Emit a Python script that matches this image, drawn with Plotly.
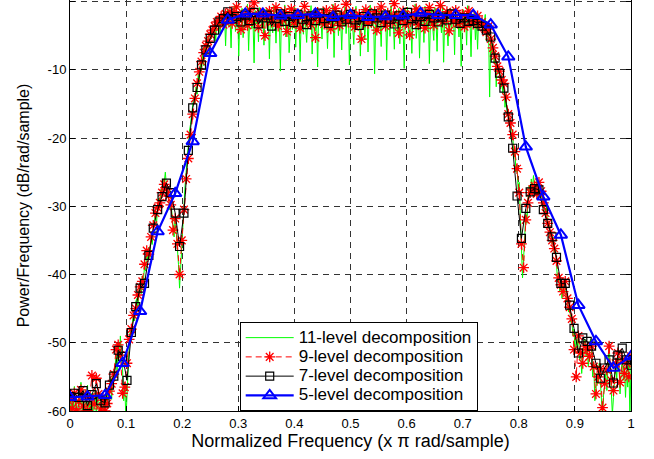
import numpy as np
import plotly.graph_objects as go

# Power spectral density (dB/rad/sample) of the reconstructed signal for
# several wavelet decomposition depths, sampled on a uniform normalized
# frequency grid from 0 to 1 (x pi rad/sample).

# 11-level decomposition: 513 frequency bins
GREEN_11 = [
    -58.5, -61.0, -57.2, -59.8, -56.4, -60.7, -58.0, -62.5, -57.6, -59.1, -55.8, -60.3, -58.7, -63.0, -57.0, -59.5,
    -56.2, -61.8, -58.3, -60.0, -57.4, -62.2, -59.0, -56.9, -60.9, -58.1, -57.5, -61.4, -59.6, -57.9, -63.5, -58.4,
    -60.6, -57.3, -59.2, -56.5, -57.8, -55.0, -58.3, -54.2, -55.6, -53.0, -51.8, -54.5, -50.1, -52.2, -49.0, -52.6,
    -54.0, -58.5, -56.0, -61.5, -57.2, -54.0, -50.5, -48.0, -49.8, -47.0, -45.5, -46.8, -44.0, -43.5, -45.2, -42.0,
    -41.5, -42.8, -40.2, -41.0, -38.8, -39.5, -36.5, -37.8, -36.0, -37.5, -34.2, -35.6, -33.0, -32.0, -31.2, -32.5,
    -30.0, -28.8, -29.5, -27.5, -28.0, -26.0, -26.5, -25.0, -27.0, -28.2, -28.5, -30.5, -29.2, -31.0, -33.0, -34.5,
    -31.5, -33.5, -36.0, -38.5, -42.0, -39.0, -34.0, -31.5, -29.5, -27.0, -25.0, -22.5, -21.0, -19.0, -18.0, -16.5,
    -16.0, -13.8, -15.0, -12.5, -13.6, -10.6, -12.0, -8.8, -10.2, -7.6, -9.4, -6.2, -7.9, -5.4, -6.8, -4.9,
    -4.5, -5.5, -3.8, -4.6, -3.2, -5.8, -2.6, -3.5, -2.2, -4.8, -1.9, -2.8, -3.6, -1.5, -6.5, -2.2,
    # pass band
    -1.2, -3.6, -2.0, -6.8, -1.7, -2.9, -0.6, -4.4, -2.5, -1.4, -8.0, -2.2, -3.1, -1.0, -5.3, -2.7,
    -1.6, -3.8, -0.4, -7.2, -2.3, -1.8, -4.0, -2.6, -9.0, -1.3, -3.3, -2.0, -5.9, -0.9, -2.8, -3.9,
    -1.5, -6.4, -2.4, -1.1, -3.5, -2.1, -8.4, -1.7, -2.9, -4.6, -0.7, -2.5, -6.1, -1.9, -3.2, -2.2,
    -10.2, -1.4, -2.7, -3.7, -0.5, -5.2, -2.3, -1.6, -7.5, -2.9, -1.2, -4.1, -2.4, -0.8, -6.7, -2.0,
    -3.4, -1.5, -8.8, -2.6, -1.9, -4.8, -1.0, -3.0, -6.0, -2.2, -1.4, -3.6, -0.6, -7.7, -2.5, -1.8,
    -4.3, -2.1, -9.6, -1.3, -3.1, -2.4, -5.5, -0.9, -2.7, -3.8, -1.6, -6.9, -2.3, -1.1, -4.0, -2.8,
    -0.4, -8.2, -1.9, -3.3, -2.0, -5.0, -1.4, -2.6, -7.1, -1.7, -3.5, -0.8, -4.7, -2.2, -1.5, -9.3,
    -2.4, -1.2, -3.7, -6.3, -2.0, -0.7, -4.2, -2.9, -1.6, -8.0, -2.3, -3.4, -1.0, -5.6, -2.6, -1.8,
    -7.4, -2.1, -0.5, -3.9, -2.5, -1.3, -10.6, -2.8, -1.9, -4.5, -0.9, -3.0, -6.6, -1.5, -2.7, -3.6,
    -1.1, -8.6, -2.2, -1.7, -5.1, -0.6, -3.2, -2.4, -7.0, -1.4, -2.9, -4.4, -1.0, -6.2, -2.3, -1.6,
    -3.8, -9.8, -1.2, -2.6, -0.8, -4.9, -2.0, -3.3, -7.6, -1.8, -2.5, -0.4, -5.4, -2.7, -1.3, -8.3,
    -2.1, -3.5, -1.5, -6.0, -0.7, -2.8, -4.1, -1.9, -9.1, -2.4, -1.1, -3.7, -5.7, -0.9, -2.2, -7.3,
    -1.6, -3.0, -2.5, -4.6, -0.5, -8.9, -2.0, -1.4, -3.4, -6.5, -2.6, -1.0, -4.3, -2.9, -1.7, -7.8,
    -0.8, -3.1, -2.3, -5.2, -1.5, -9.5, -2.7, -1.2, -4.0, -2.1, -6.4, -0.6, -3.6, -2.4, -8.1, -1.9,
    -3.2, -1.4, -5.6, -2.8, -7.0, -1.8, -3.9, -2.6,
    # upper transition band and stop band
    -2.4, -4.6, -3.5, -1.9, -5.8, -3.0, -4.5, -14.0, -5.0, -7.5, -6.2, -9.0, -7.4, -12.5, -8.8, -10.6,
    -9.6, -12.8, -11.0, -13.5, -11.8, -15.5, -13.6, -16.8, -15.8, -18.0, -17.2, -20.5, -18.8, -23.0, -21.5, -25.0,
    -24.0, -27.5, -26.5, -33.0, -36.0, -40.5, -38.0, -34.5, -31.0, -32.5, -29.0, -27.0, -28.5, -26.0, -27.5, -25.5,
    -27.0, -28.5, -26.0, -29.0, -26.5, -28.0, -27.2, -29.5, -28.8, -30.5, -31.5, -30.0, -33.0, -32.2, -34.5, -33.5,
    -35.5, -34.5, -37.0, -36.0, -38.5, -41.0, -40.0, -42.5, -41.0, -43.5, -42.0, -41.5, -40.8, -44.0, -43.5, -45.5,
    -44.5, -47.0, -46.5, -49.0, -48.0, -51.5, -49.5, -50.5, -48.5, -52.5, -51.0, -54.5, -52.5, -50.0, -49.5, -52.0,
    -50.5, -53.5, -51.5, -49.5, -51.0, -55.0, -53.0, -58.5, -57.0, -54.5, -56.0, -53.0, -55.5, -58.0, -61.0, -57.5,
    -55.5, -54.5, -57.0, -52.0, -50.0, -53.5, -56.5, -60.5, -58.0, -54.0, -52.5, -55.5, -51.0, -53.0, -57.5, -54.5,
    -52.0, -55.5, -53.5, -58.0, -54.0, -56.5, -52.5, -61.0, -53.0,
]

# 9-level decomposition: 257 frequency bins
RED_9 = [
    -58.2, -59.6, -57.4, -60.0, -58.6, -56.9, -59.3, -57.8, -59.9, -58.1,
    -54.8, -59.0, -55.2, -57.5, -59.7, -58.4, -60.0, -58.9, -57.1, -56.0,
    -54.6, -51.0, -50.3, -51.8, -57.4, -56.5, -53.0, -49.5, -48.0,
    -46.0, -45.0, -43.0, -41.8, -41.0, -38.5, -36.5, -37.0, -34.5, -32.8,
    -31.0, -30.2, -29.5, -28.0, -26.8, -27.5, -28.5, -29.8, -33.5, -31.8,
    -35.5, -40.0, -35.0, -30.5, -26.0, -23.0, -19.5, -16.5, -14.2, -12.0,
    -10.3, -8.8, -7.5, -6.5, -5.8, -4.8, -4.2, -3.6, -3.0, -2.8,
    -2.2, -3.4, -1.8, -2.6,
    # pass band
    -1.5, -3.2, -2.0, -0.8, -2.7, -4.1, -1.9, -2.4, -3.5, -1.2,
    -2.8, -0.2, -2.2, -3.8, -1.7, -2.5, -5.0, -2.1, -1.4, -3.0,
    -2.3, -0.9, -3.6, -2.0, -2.7, -1.5, -4.4, -2.4, -1.1, -3.1,
    -2.6, -1.8, -3.9, -2.2, -0.7, -2.9, -1.9, -3.4, -2.5, -5.3,
    -1.6, -2.8, -2.1, -3.3, -1.3, -2.6, -4.0, -2.0, -1.0, -2.9,
    -3.5, -1.8, -2.4, -0.4, -3.0, -2.2, -1.6, -3.7, -2.5, -1.9,
    -5.5, -2.7, -1.2, -3.2, -2.1, -2.8, -1.5, -4.2, -2.3, -0.8,
    -2.9, -3.6, -1.7, -2.4, -3.1, -0.3, -2.0, -4.6, -2.6, -1.4,
    -3.3, -2.2, -4.9, -1.9, -2.8, -1.1, -3.4, -2.5, -1.6, -3.9,
    -2.1, -0.9, -2.7, -3.5, -1.8, -2.3, -0.6, -3.0, -2.4, -1.5,
    -4.3, -2.0, -2.9, -1.3, -3.2, -2.6, -1.9, -3.7, -2.2, -1.4,
    -2.8, -3.3, -2.5, -2.1, -3.4,
    # upper transition band and stop band
    -3.0, -3.8, -4.5, -3.6, -5.5, -6.8, -8.0, -9.5, -10.2, -11.5,
    -12.0, -14.0, -16.5, -17.8, -19.5, -22.0, -24.5, -28.0, -35.5, -39.0,
    -32.0, -29.5, -28.0, -27.5, -27.0, -28.2, -26.5, -27.8, -29.5, -31.0,
    -32.5, -33.8, -35.0, -36.2, -38.0, -40.5, -41.5, -42.5, -41.0, -43.5,
    -44.8, -46.5, -51.0, -55.0, -49.0, -51.5, -53.0, -50.5, -51.0, -52.0,
    -50.5, -53.5, -57.5, -55.0, -53.8, -59.5, -56.0, -54.0, -50.5, -55.5,
    -57.0, -53.0, -51.5, -55.8, -52.5, -54.5, -53.0, -55.0, -52.0,
]

# 7-level decomposition: 129 frequency bins
BLACK_7 = [
    -57.9, -57.4, -58.0, -57.0, -59.2, -57.6, -56.0, -58.5, -58.8, -56.2, -54.9, -51.1, -52.0, -55.5, -48.5, -44.7,
    -42.0, -41.3, -37.2, -33.2, -30.5, -28.6, -26.6, -28.0, -31.0, -35.9, -31.0, -21.8, -15.6, -12.6, -9.3, -7.1,
    -5.4, -4.2, -3.0, -2.5, -1.5, -2.5, -2.2, -3.0, -2.0, -2.8, -1.6, -3.3, -2.4, -2.0, -3.6, -2.5,
    -1.8, -2.9, -2.2, -3.1, -1.9, -2.6, -3.4, -2.1, -2.8, -1.7, -2.5, -3.2, -2.3, -2.0, -3.0, -2.6,
    -1.9, -2.7, -3.5, -2.2, -2.9, -1.8, -2.4, -3.1, -2.0, -2.6, -3.3, -2.1, -2.8, -1.6, -2.5, -3.4,
    -2.2, -2.9, -1.9, -2.4, -3.0, -2.3, -2.7, -1.8, -2.6, -3.2, -2.4, -2.9, -2.8, -3.2, -3.6, -4.2,
    -5.2, -8.3, -10.5, -12.7, -16.9, -21.5, -28.5, -34.7, -30.3, -27.9, -27.4, -27.6, -30.5, -32.5, -34.5, -37.5,
    -41.3, -41.3, -44.5, -47.9, -51.5, -49.3, -49.8, -50.5, -53.0, -55.2, -53.7, -52.5, -55.9, -51.8, -50.8, -52.5,
    -53.3,
]

# 5-level decomposition: 33 frequency bins
BLUE_5 = [
    -58.0, -57.9, -57.7, -53.0, -45.4, -33.7, -28.1, -20.5, -7.6, -2.7, -1.8,
    -1.8, -2.1, -2.0, -1.8, -2.3, -2.0, -2.3, -2.2, -2.1, -1.7, -2.0,
    -2.0, -2.0, -3.4, -8.1, -21.3, -28.6, -34.2, -44.5, -49.8, -53.7, -52.0,
]

SERIES_NAMES = [
    "11-level decomposition",
    "9-level decomposition",
    "7-level decomposition",
    "5-level decomposition",
]

X_TICKS = [0, 0.1, 0.2, 0.3, 0.4, 0.5, 0.6, 0.7, 0.8, 0.9, 1]
X_TICK_TEXT = ["0", "0.1", "0.2", "0.3", "0.4", "0.5", "0.6", "0.7", "0.8", "0.9", "1"]
Y_TICKS = [-60, -50, -40, -30, -20, -10, 0]
Y_TICK_TEXT = ["-60", "-50", "-40", "-30", "-20", "-10", "0"]

for name, vals, n in [("GREEN_11", GREEN_11, 513), ("RED_9", RED_9, 257),
                      ("BLACK_7", BLACK_7, 129), ("BLUE_5", BLUE_5, 33)]:
    assert len(vals) == n, f"{name} has {len(vals)} values, expected {n}"


def freq_grid(values):
    """Uniform normalized-frequency bins from 0 to 1 for a PSD estimate."""
    return np.linspace(0.0, 1.0, len(values))


def legend_label(text):
    # larger legend text while keeping compact legend rows
    return f'<span style="font-size:17px">{text}</span>'


FONT = "Arial, 'Liberation Sans', sans-serif"

fig = go.Figure()

fig.add_trace(go.Scatter(
    x=freq_grid(GREEN_11), y=GREEN_11, name=legend_label(SERIES_NAMES[0]),
    mode="lines", line=dict(color="#00ff00", width=1),
))
fig.add_trace(go.Scatter(
    x=freq_grid(RED_9), y=RED_9, name=legend_label(SERIES_NAMES[1]),
    mode="lines+markers",
    line=dict(color="#ff0000", width=1, dash="6px,4px"),
    marker=dict(symbol="asterisk-open", size=9, color="#ff0000",
                line=dict(color="#ff0000", width=1.3)),
))
fig.add_trace(go.Scatter(
    x=freq_grid(BLACK_7), y=BLACK_7, name=legend_label(SERIES_NAMES[2]),
    mode="lines+markers",
    line=dict(color="#000000", width=1),
    marker=dict(symbol="square-open", size=8, color="#000000",
                line=dict(color="#000000", width=1.2)),
))
fig.add_trace(go.Scatter(
    x=freq_grid(BLUE_5), y=BLUE_5, name=legend_label(SERIES_NAMES[3]),
    mode="lines+markers",
    line=dict(color="#0000ff", width=2.2),
    marker=dict(symbol="triangle-up-open", size=11, color="#0000ff",
                line=dict(color="#0000ff", width=2)),
))

grid = dict(showgrid=True, gridcolor="#333333", gridwidth=1, griddash="6px,5px")

fig.update_layout(
    width=654, height=459,
    margin=dict(l=70, r=23, t=0, b=48),
    paper_bgcolor="white", plot_bgcolor="white",
    font=dict(family=FONT, size=13, color="black"),
    showlegend=True,
    legend=dict(
        x=0.3025, y=0, xanchor="left", yanchor="bottom",
        bgcolor="white", bordercolor="black", borderwidth=1,
        font=dict(family=FONT, size=12.5, color="black"),
        itemwidth=48, tracegroupgap=0,
    ),
)

fig.update_xaxes(
    range=[0, 1], tickmode="array", tickvals=X_TICKS, ticktext=X_TICK_TEXT,
    ticks="inside", ticklen=5, tickcolor="black",
    showline=True, linecolor="black", linewidth=1, mirror=False,
    zeroline=False,
    title=dict(text="Normalized Frequency (x \u03c0 rad/sample)",
               font=dict(family=FONT, size=18, color="black"), standoff=4),
    **grid,
)
fig.update_yaxes(
    range=[-60, 0.22], tickmode="array", tickvals=Y_TICKS, ticktext=Y_TICK_TEXT,
    ticks="inside", ticklen=5, tickcolor="black",
    showline=True, linecolor="black", linewidth=1, mirror="ticks",
    zeroline=False,
    title=dict(text="Power/Frequency (dB/rad/sample)",
               font=dict(family=FONT, size=16, color="black"), standoff=14),
    **grid,
)

fig.write_html("out.html")
